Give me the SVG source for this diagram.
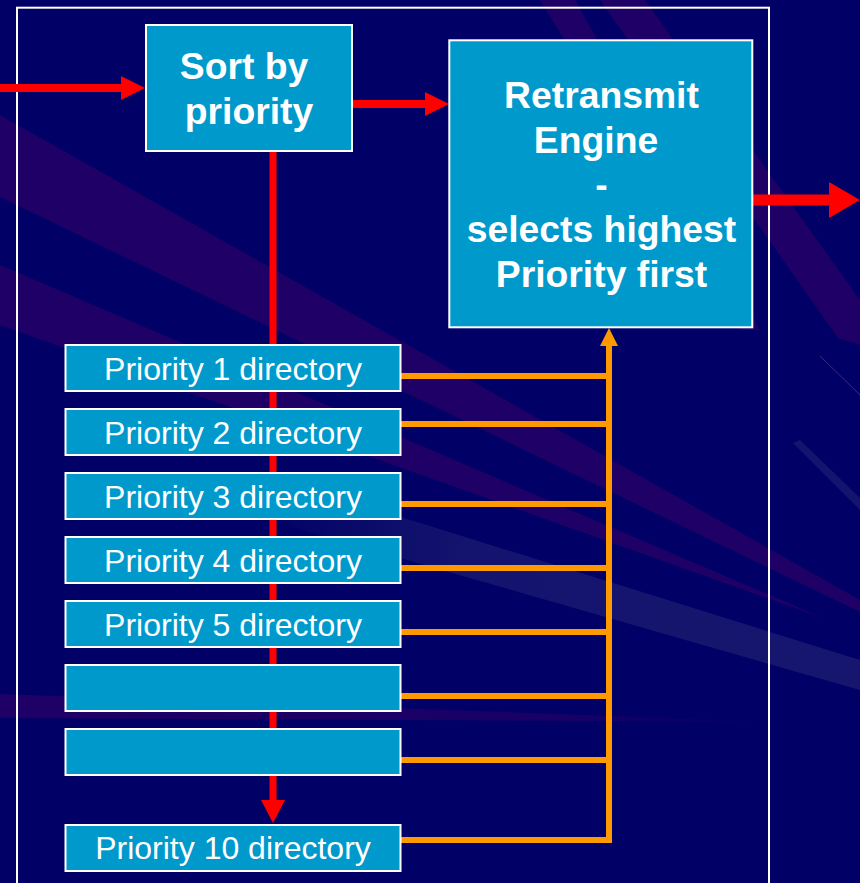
<svg xmlns="http://www.w3.org/2000/svg" width="860" height="883" viewBox="0 0 860 883">
<defs>
<style>
.box{fill:#0099CC;stroke:#FFFFFF;stroke-width:2}
.frame{fill:none;stroke:#FFFFFF;stroke-width:2}
.bold{font-family:"Liberation Sans",Arial,sans-serif;font-weight:bold;font-size:37.3px;fill:#FFFFFF;text-anchor:middle}
.reg{font-family:"Liberation Sans",Arial,sans-serif;font-size:32px;fill:#FFFFFF;text-anchor:middle}
.red{stroke:#FF0000;fill:none}
.redf{fill:#FF0000}
.or{stroke:#FF9900;stroke-width:6;fill:none}
.orf{fill:#FF9900}
.ray{fill:#1F0066}
.lray{fill:#14146E}
</style>
<linearGradient id="fadeL" x1="0" y1="0" x2="1" y2="0">
<stop offset="0" stop-color="#14146E" stop-opacity="0"/>
<stop offset="0.35" stop-color="#14146E" stop-opacity="1"/>
<stop offset="1" stop-color="#16166F" stop-opacity="1"/>
</linearGradient>
<linearGradient id="fadeR" x1="0" y1="0" x2="1" y2="0">
<stop offset="0" stop-color="#1F0066" stop-opacity="1"/>
<stop offset="0.7" stop-color="#1F0066" stop-opacity="0.8"/>
<stop offset="1" stop-color="#1F0066" stop-opacity="0"/>
</linearGradient>
</defs>
<g id="background">
<rect x="0" y="0" width="860" height="883" fill="#000066"/>
<polygon class="ray" points="0,115 860,600 860,612 0,197"/>
<polygon class="ray" points="0,265 823,618 0,325"/>
<polygon fill="url(#fadeL)" points="250,470 860,660 860,690 250,515"/>
<polygon fill="url(#fadeR)" points="0,694 780,722 0,718"/>
<polygon class="ray" points="600,0 645,0 860,300 860,345 838,338"/>
<polygon class="ray" points="540,0 575,0 760,330 740,330"/>
<polygon class="lray" points="793,443 800,440 860,498 860,510"/>
<line x1="820" y1="356" x2="860" y2="395" stroke="#3A2A80" stroke-width="1"/>
</g>
<rect id="frame" class="frame" x="17" y="7.7" width="752" height="900"/>
<g id="connectors">
<line class="red" x1="0" y1="88" x2="122" y2="88" stroke-width="8"/>
<polygon class="redf" points="121,76 145,88 121,100"/>
<line class="red" x1="353" y1="104" x2="426" y2="104" stroke-width="8"/>
<polygon class="redf" points="425,92 449,104 425,116"/>
<line class="red" x1="273" y1="152" x2="273" y2="801" stroke-width="7"/>
<polygon class="redf" points="261,800 285,800 273,823"/>
<line class="red" x1="753" y1="200" x2="830" y2="200" stroke-width="11"/>
<polygon class="redf" points="829,182 860,200 829,218"/>
<line class="or" x1="609" y1="345" x2="609" y2="843"/>
<polygon class="orf" points="600,346 609,328 618,346"/>
<line class="or" x1="401" y1="376" x2="609" y2="376"/>
<line class="or" x1="401" y1="424" x2="609" y2="424"/>
<line class="or" x1="401" y1="504" x2="609" y2="504"/>
<line class="or" x1="401" y1="568" x2="609" y2="568"/>
<line class="or" x1="401" y1="632" x2="609" y2="632"/>
<line class="or" x1="401" y1="696" x2="609" y2="696"/>
<line class="or" x1="401" y1="760" x2="609" y2="760"/>
<line class="or" x1="401" y1="840" x2="612" y2="840"/>
</g>
<g id="sort">
<rect class="box" x="146" y="25" width="206" height="126"/>
<text class="bold" x="244" y="79">Sort by</text>
<text class="bold" x="249" y="124">priority</text>
</g>
<g id="engine">
<rect class="box" x="449.3" y="40.3" width="303" height="287"/>
<text class="bold" x="601.5" y="108">Retransmit</text>
<text class="bold" x="596" y="152.6">Engine</text>
<text class="bold" x="601.5" y="197.2">-</text>
<text class="bold" x="601.5" y="241.5">selects highest</text>
<text class="bold" x="601.5" y="286.5">Priority first</text>
</g>
<g id="p1"><rect class="box" x="65.5" y="345" width="335" height="46"/><text class="reg" x="233" y="380">Priority 1 directory</text></g>
<g id="p2"><rect class="box" x="65.5" y="409" width="335" height="46"/><text class="reg" x="233" y="444">Priority 2 directory</text></g>
<g id="p3"><rect class="box" x="65.5" y="473" width="335" height="46"/><text class="reg" x="233" y="508">Priority 3 directory</text></g>
<g id="p4"><rect class="box" x="65.5" y="537" width="335" height="46"/><text class="reg" x="233" y="572">Priority 4 directory</text></g>
<g id="p5"><rect class="box" x="65.5" y="601" width="335" height="46"/><text class="reg" x="233" y="636">Priority 5 directory</text></g>
<g id="p6"><rect class="box" x="65.5" y="665" width="335" height="46"/></g>
<g id="p7"><rect class="box" x="65.5" y="729" width="335" height="46"/></g>
<g id="p10"><rect class="box" x="65.5" y="825" width="335" height="46"/><text class="reg" x="233" y="859">Priority 10 directory</text></g>
</svg>
